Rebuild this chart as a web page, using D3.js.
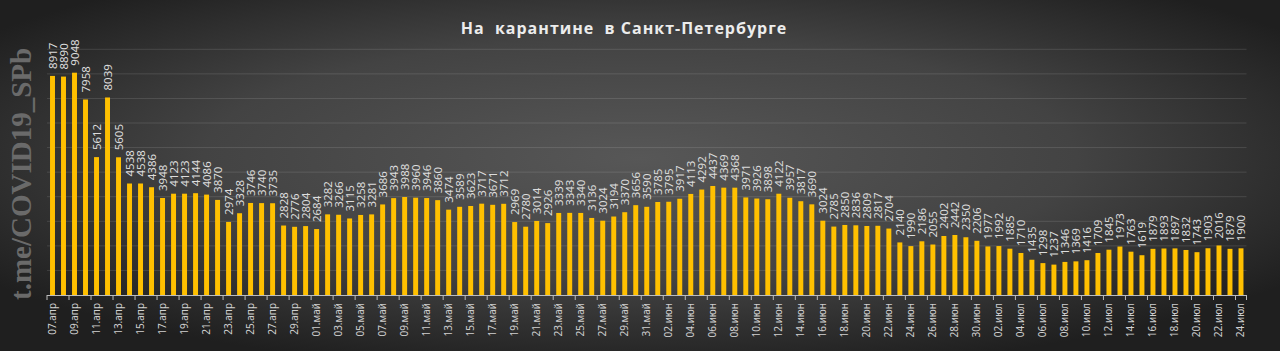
<!DOCTYPE html>
<html>
<head>
<meta charset="utf-8">
<script src="https://cdn.jsdelivr.net/npm/d3@7"></script>
<style>
    html, body { margin: 0; padding: 0; background: #222; }
    svg { display: block; }
</style>
</head>
<body>
<div id="chart"></div>
<script>
const TITLE = 'На  карантине  в Санкт-Петербурге';
const WATERMARK = 't.me/COVID19_SPb';

// Daily values, 07 апр .. 24 июл
const aprValues = [8917, 8890, 9048, 7958, 5612, 8039, 5605, 4538, 4538, 4386, 3948, 4123, 4123, 4144,
    4086, 3870, 2974, 3328, 3746, 3740, 3735, 2828, 2776, 2804];
const mayValues = [2684, 3282, 3266, 3115, 3258, 3281, 3686, 3943, 3988, 3960, 3946, 3860, 3474, 3589,
    3623, 3717, 3671, 3712, 2969, 2780, 3014, 2926, 3339, 3343, 3340, 3136, 3024, 3194, 3370, 3656, 3590];
const junValues = [3785, 3795, 3917, 4113, 4292, 4437, 4369, 4368, 3971, 3926, 3898, 4122, 3957, 3817,
    3690, 3024, 2785, 2850, 2836, 2809, 2817, 2704, 2140, 1990, 2186, 2055, 2402, 2442, 2350, 2206];
const julValues = [1977, 1992, 1885, 1710, 1435, 1298, 1237, 1346, 1369, 1416, 1709, 1845, 1973, 1763,
    1619, 1879, 1893, 1897, 1832, 1743, 1903, 2016, 1879, 1900];

const months = [
    { name: 'апр', first: 7, values: aprValues },
    { name: 'май', first: 1, values: mayValues },
    { name: 'июн', first: 1, values: junValues },
    { name: 'июл', first: 1, values: julValues }
];
const yTicks = [0, 1000, 2000, 3000, 4000, 5000, 6000, 7000, 8000, 9000, 10000];

const pad = n => (n < 10 ? '0' : '') + n;
const data = [];
months.forEach(m => m.values.forEach((v, i) => {
    data.push({ label: pad(m.first + i) + '.' + m.name, value: v });
}));

const W = 1280, H = 351;
const svg = d3.select('#chart').append('svg').attr('width', W).attr('height', H);

// Background
const defs = svg.append('defs');
const grad = defs.append('radialGradient').attr('id', 'bg')
    .attr('cx', '50%').attr('cy', '45%').attr('r', '62%');
grad.append('stop').attr('offset', '0%').attr('stop-color', '#575757');
grad.append('stop').attr('offset', '55%').attr('stop-color', '#434343');
grad.append('stop').attr('offset', '100%').attr('stop-color', '#1f1f1f');
svg.append('rect').attr('width', W).attr('height', H).attr('fill', 'url(#bg)');

// Scales
const x = d3.scaleBand()
    .domain(data.map(d => d.label))
    .range([47, 1246.5])
    .paddingInner(0.55)
    .paddingOuter(0.275);

const y = d3.scaleLinear().domain([0, 10000]).range([295, 49.3]);

// Gridlines
svg.append('g').selectAll('line').data(yTicks.slice(1)).join('line')
    .attr('x1', 47).attr('x2', 1246.5)
    .attr('y1', d => y(d)).attr('y2', d => y(d))
    .attr('stroke', 'rgba(255,255,255,0.12)')
    .attr('stroke-width', 1);

// Bars
svg.append('g').selectAll('rect').data(data).join('rect')
    .attr('x', d => x(d.label))
    .attr('y', d => y(d.value))
    .attr('width', x.bandwidth())
    .attr('height', d => y(0) - y(d.value))
    .attr('fill', '#ffc000');

// Value labels
svg.append('g').selectAll('text').data(data).join('text')
    .attr('transform', d => `translate(${x(d.label) + x.bandwidth() / 2 + 4},${y(d.value) - 7}) rotate(-90)`)
    .attr('fill', '#dcdcdc')
    .style('font-family', '"Noto Sans", sans-serif')
    .style('font-size', '11.5px')
    .text(d => d.value);

// X axis
const step = x.step();
const axis = svg.append('g');
axis.append('line')
    .attr('x1', 47).attr('x2', 1246.5)
    .attr('y1', y(0) + 0.5).attr('y2', y(0) + 0.5)
    .attr('stroke', '#bdbdbd');
const tickData = data.filter((d, i) => i % 2 === 0);
axis.selectAll('line.tick').data(tickData).join('line')
    .attr('class', 'tick')
    .attr('x1', d => x(d.label) - (step - x.bandwidth()) / 2)
    .attr('x2', d => x(d.label) - (step - x.bandwidth()) / 2)
    .attr('y1', y(0)).attr('y2', y(0) + 5)
    .attr('stroke', '#bdbdbd');
axis.append('line')
    .attr('x1', 1246.5).attr('x2', 1246.5)
    .attr('y1', y(0)).attr('y2', y(0) + 5)
    .attr('stroke', '#bdbdbd');
axis.selectAll('text').data(tickData).join('text')
    .attr('transform', d => `translate(${x(d.label) + x.bandwidth() / 2 + 3.5},${y(0) + 8}) rotate(-90)`)
    .attr('text-anchor', 'end')
    .attr('fill', '#d0d0d0')
    .style('font-family', '"Noto Sans", sans-serif')
    .style('font-size', '10px')
    .text(d => d.label);

// Title
svg.append('text')
    .attr('x', 624).attr('y', 34)
    .attr('text-anchor', 'middle')
    .attr('fill', '#ececec')
    .style('font-family', '"Open Sans", sans-serif')
    .style('font-weight', 'bold')
    .style('font-size', '16px')
    .style('letter-spacing', '1px')
    .style('white-space', 'pre')
    .text(TITLE);

// Watermark
svg.append('text')
    .attr('transform', 'translate(31,300) rotate(-90)')
    .attr('fill', '#6a6a6a')
    .style('font-family', '"Liberation Serif", serif')
    .style('font-weight', 'bold')
    .style('font-size', '29px')
    .text(WATERMARK);
</script>
</body>
</html>
